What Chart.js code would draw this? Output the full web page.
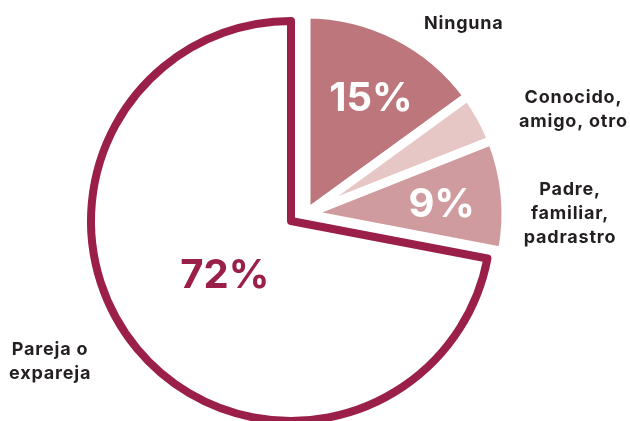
<!DOCTYPE html>
<html lang="es">
<head>
<meta charset="utf-8">
<script src="https://cdn.jsdelivr.net/npm/chart.js@4/dist/chart.umd.min.js"></script>
<style>
  html, body { margin: 0; padding: 0; background: #fff; }
  body { width: 630px; height: 421px; overflow: hidden; position: relative; }
  canvas { position: absolute; left: 0; top: 0; }
</style>
</head>
<body>
<canvas id="pieBase" width="630" height="442"></canvas>
<canvas id="pieSlices" width="630" height="442"></canvas>
<script>
// Datos
const categories = ['Ninguna', 'Conocido, amigo, otro', 'Padre, familiar, padrastro', 'Pareja o expareja'];
const shares = [15, 4, 9, 72];
const nameLines = [['Ninguna'], ['Conocido,', 'amigo, otro'], ['Padre,', 'familiar,', 'padrastro'], ['Pareja o', 'expareja']];

// Estilo
const sliceColors = ['#bc767c', '#e6c7c6', '#d09b9e', '#ffffff'];
const maroon = '#9b2049';
const textDark = '#231f20';
const pctDepth = [0.66, 0, 0.68, 0.43];     // fraction of radius for the % label
const pctTurn = [2.5, 0, 1.5, 0];           // small nudge (deg) off the slice bisector
const nameAngle = [39.7, 68.7, 90, 239.7];  // degrees clockwise from 12 o'clock
const nameDist = [247, 287, 264, 279];      // px from the slice centre
const lineGap = 24;

const sliceText = {
    id: 'sliceText',
    afterDatasetsDraw(chart, args, opts) {
        const ctx = chart.ctx;
        const arcs = chart.getDatasetMeta(0).data;
        ctx.save();
        ctx.textAlign = 'center';
        ctx.textBaseline = 'middle';
        opts.show.forEach(i => {
            const a = arcs[i];
            const mid = (a.startAngle + a.endAngle) / 2 + pctTurn[i] * Math.PI / 180;
            if (pctDepth[i] > 0) {
                const r = a.outerRadius * pctDepth[i];
                ctx.letterSpacing = '0px';
                ctx.font = '700 40px Inter, "Liberation Sans", sans-serif';
                ctx.fillStyle = i === 3 ? maroon : '#fff';
                ctx.fillText(shares[i] + '%', a.x + Math.cos(mid) * r, a.y + Math.sin(mid) * r);
            }
            const t = nameAngle[i] * Math.PI / 180 - Math.PI / 2;
            const cx = a.x + Math.cos(t) * nameDist[i];
            const cy = a.y + Math.sin(t) * nameDist[i];
            const lines = nameLines[i];
            ctx.letterSpacing = '0.8px';
            ctx.font = '700 18px Inter, "Liberation Sans", sans-serif';
            ctx.fillStyle = textDark;
            lines.forEach((s, k) => ctx.fillText(s, cx, cy + (k - (lines.length - 1) / 2) * lineGap));
        });
        ctx.restore();
    }
};

function pieConfig(dataset, padding, show) {
    return {
        type: 'pie',
        data: { labels: categories, datasets: [dataset] },
        options: {
            responsive: false,
            animation: false,
            radius: 200,
            layout: { padding },
            plugins: { legend: { display: false }, tooltip: { enabled: false }, sliceText: { show } }
        },
        plugins: [sliceText]
    };
}

// big slice, outlined
new Chart(document.getElementById('pieBase'), pieConfig({
    data: shares,
    backgroundColor: shares.map((v, i) => i === 3 ? '#fff' : 'rgba(0,0,0,0)'),
    borderColor: maroon,
    borderWidth: shares.map((v, i) => i === 3 ? 8 : 0),
    borderJoinStyle: 'round'
}, { left: 0, right: 48, top: 0, bottom: 0 }, [3]));

// small slices, pulled out up-right, white gaps between them
new Chart(document.getElementById('pieSlices'), pieConfig({
    data: shares,
    backgroundColor: shares.map((v, i) => i === 3 ? 'rgba(0,0,0,0)' : sliceColors[i]),
    borderColor: '#fff',
    borderWidth: shares.map((v, i) => i === 3 ? 0 : 9),
    borderJoinStyle: 'round'
}, { left: 0, right: 18, top: 0, bottom: 14 }, [0, 1, 2]));
</script>
</body>
</html>
